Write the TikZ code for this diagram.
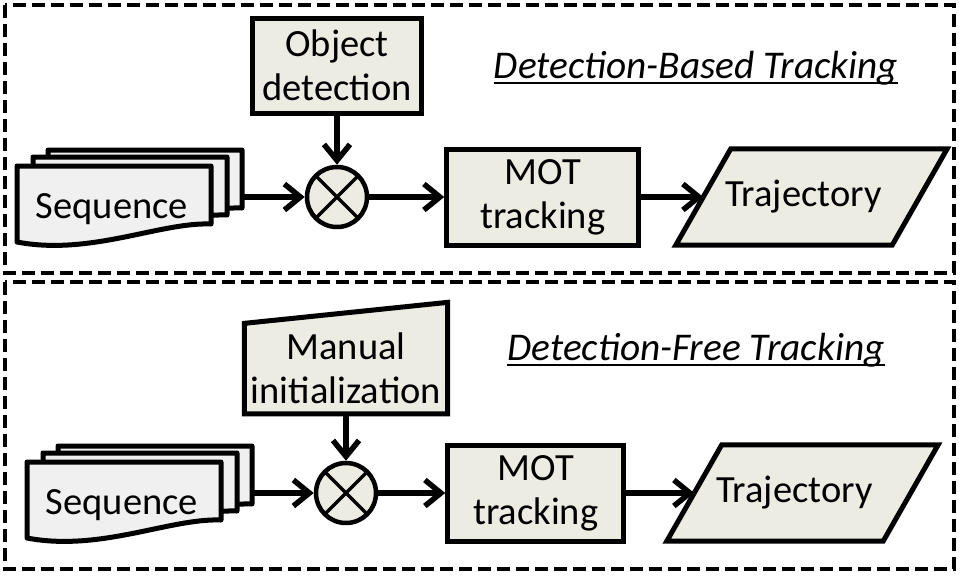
\documentclass[tikz,border=0pt]{standalone}
\usepackage{fontspec}
\setmainfont{Carlito}
\usetikzlibrary{shapes.geometric,arrows.meta,positioning,backgrounds}
\definecolor{boxfill}{RGB}{236,236,226}
\definecolor{seqfill}{RGB}{240,240,240}

% stack of three documents: front top-left x, y, name
\newcommand{\seqstack}[3]{
  \begin{scope}[shift={(#1,#2)}]
    \foreach \dx/\dy in {31/-16, 16/-9, 0/0} {
      \begin{scope}[shift={(\dx,\dy)}]
        \draw[doc] (0,0) -- (194,0) -- (194,58) .. controls (143,56) and (73,90) .. (0,76) -- cycle;
      \end{scope}
    }
    \node[anchor=base] (#3) at (95,52) {Sequence};
    \coordinate (#3out) at (225,31);
  \end{scope}
}

\begin{document}
\begin{tikzpicture}[
    x=1pt, y=-1pt,
    font=\fontsize{38.5}{44}\selectfont,
    box/.style={rectangle, draw, line width=5pt, fill=boxfill, align=center, inner sep=0pt, minimum height=96pt},
    doc/.style={draw, line width=5pt, fill=seqfill, line join=round},
    mult/.style={circle, draw, line width=4.5pt, fill=boxfill, minimum size=60pt, inner sep=0pt,
        path picture={\draw[line width=3.5pt] (path picture bounding box.north west) -- (path picture bounding box.south east)
            (path picture bounding box.north east) -- (path picture bounding box.south west);}},
    output/.style={rectangle, inner sep=0pt, minimum width=216pt, minimum height=96pt},
    slanted/.style={draw, line width=5pt, fill=boxfill, line join=miter},
    manual/.style={draw, line width=5pt, fill=boxfill, line join=miter},
    title/.style={font=\fontsize{39.3}{44}\selectfont\itshape, inner sep=0pt, anchor=base},
    frame/.style={draw, line width=3.5pt, dash pattern=on 13pt off 6pt},
    arrow/.style={-{Straight Barb[length=16pt, width=26pt]}, line width=5.5pt}
]
    \useasboundingbox (0,0) rectangle (961,576);
    \draw[frame] (5,5) rectangle (954,273);
    \draw[frame] (5,282) rectangle (954,569);

    % detection-based
    \node[mult] (mulA) at (337,197) {};
    \node[box, minimum width=169pt, minimum height=95pt, above=49pt of mulA] (detA) {Object\\detection};
    \node[box, minimum width=192pt, right=75pt of mulA] (motA) {MOT\\tracking};
    \node[output, right=62pt of motA] (trajA) {Trajectory\kern16pt};
    \seqstack{17}{166}{seqA}
    \node[title] (titA) at (696,78) {Detection-Based Tracking};
    \draw[line width=1.6pt] ([yshift=-5pt]titA.base west) -- ([yshift=-5pt]titA.base east);

    \draw[arrow] (detA) -- (mulA);
    \draw[arrow] (seqAout) -- (mulA);
    \draw[arrow] (mulA) -- (motA);
    \draw[arrow] (motA) -- (trajA);

    % detection-free
    \node[mult] (mulB) at (346,493) {};
    \node[align=center, inner sep=0pt, minimum width=203pt, minimum height=90pt, above=47pt of mulB] (initB) {Manual\\initialization};
    \node[box, minimum width=176pt, right=67pt of mulB] (motB) {MOT\\tracking};
    \node[output, right=68pt of motB] (trajB) {Trajectory\kern16pt};
    \seqstack{27}{462}{seqB}
    \node[title] (titB) at (696,360) {Detection-Free Tracking};
    \draw[line width=1.6pt] ([yshift=-5pt]titB.base west) -- ([yshift=-5pt]titB.base east);

    \begin{scope}[on background layer]
        \draw[manual] (initB.south west) -- (initB.south east) -- ([yshift=21pt]initB.north east) -- (initB.north west) -- cycle;
        \foreach \t in {trajA, trajB}
            \draw[slanted] ([xshift=-27.5pt]\t.south west) -- ([xshift=-27.5pt]\t.south east)
                -- ([xshift=27.5pt]\t.north east) -- ([xshift=27.5pt]\t.north west) -- cycle;
    \end{scope}

    \draw[arrow] (initB) -- (mulB);
    \draw[arrow] (seqBout) -- (mulB);
    \draw[arrow] (mulB) -- (motB);
    \draw[arrow] (motB) -- (trajB);
\end{tikzpicture}
\end{document}
